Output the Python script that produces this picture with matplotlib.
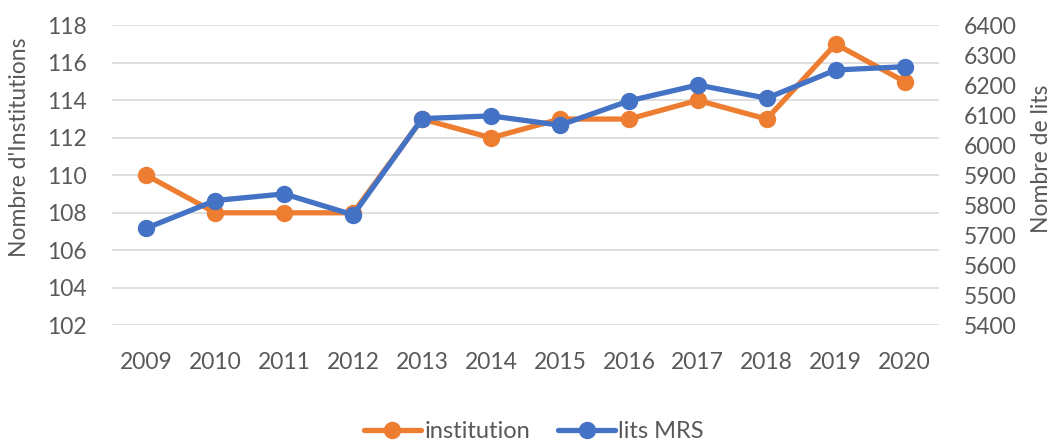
import matplotlib.pyplot as plt

plt.rcParams['font.family'] = ['Lato', 'DejaVu Sans']

years = ["2009", "2010", "2011", "2012", "2013", "2014",
         "2015", "2016", "2017", "2018", "2019", "2020"]
institution = [110, 108, 108, 108, 113, 112, 113, 113, 114, 113, 117, 115]
lits_mrs = [5724, 5816, 5838, 5768, 6089, 6098, 6067, 6148, 6201, 6157, 6251, 6262]

orange = "#ED7D31"
blue = "#4472C4"
grey = "#595959"
fs = 16.5

W, H = 1052, 445
fig = plt.figure(figsize=(W / 100, H / 100), dpi=100)
# plot area in pixels: x 112..939, y 25..325
ax = fig.add_axes([112 / W, 1 - 325.3 / H, 827 / W, 300 / H])
ax2 = ax.twinx()

x = range(len(years))
ax.plot(x, institution, color=orange, lw=3.8, marker="o", ms=11.5,
        label="institution", solid_capstyle="round", zorder=3)
ax2.plot(x, lits_mrs, color=blue, lw=3.8, marker="o", ms=11.5,
         label="lits MRS", solid_capstyle="round", zorder=3)

ax.set_xlim(-0.5, len(years) - 0.5)
ax.set_ylim(102, 118)
ax.set_yticks(range(102, 119, 2))
ax2.set_ylim(5400, 6400)
ax2.set_yticks(range(5400, 6401, 100))
ax.set_xticks(list(x))
ax.set_xticklabels(years)

ax.grid(axis="y", color="#D9D9D9", lw=1.2)
ax.set_axisbelow(True)
for a in (ax, ax2):
    for s in a.spines.values():
        s.set_visible(False)
    a.tick_params(length=0, labelsize=fs, colors=grey)
ax.tick_params(axis="x", pad=19)
ax.tick_params(axis="y", pad=18)
ax2.tick_params(axis="y", pad=18)

# axis titles
fig.text(20 / W, 1 - 147 / H, "Nombre d'Institutions", rotation=90,
         ha="center", va="center", fontsize=fs, color=grey)
fig.text(1041 / W, 1 - 159 / H, "Nombre de lits", rotation=90,
         ha="center", va="center", fontsize=fs, color=grey)

h1, l1 = ax.get_legend_handles_labels()
h2, l2 = ax2.get_legend_handles_labels()
fig.legend(h1 + h2, l1 + l2, loc="center", bbox_to_anchor=(534 / W, 1 - 432 / H),
           ncol=2, frameon=False, fontsize=17, labelcolor=grey,
           handlelength=2.4, handletextpad=0.15, columnspacing=1.2,
           borderpad=0)

fig.savefig("out.png", dpi=100)
